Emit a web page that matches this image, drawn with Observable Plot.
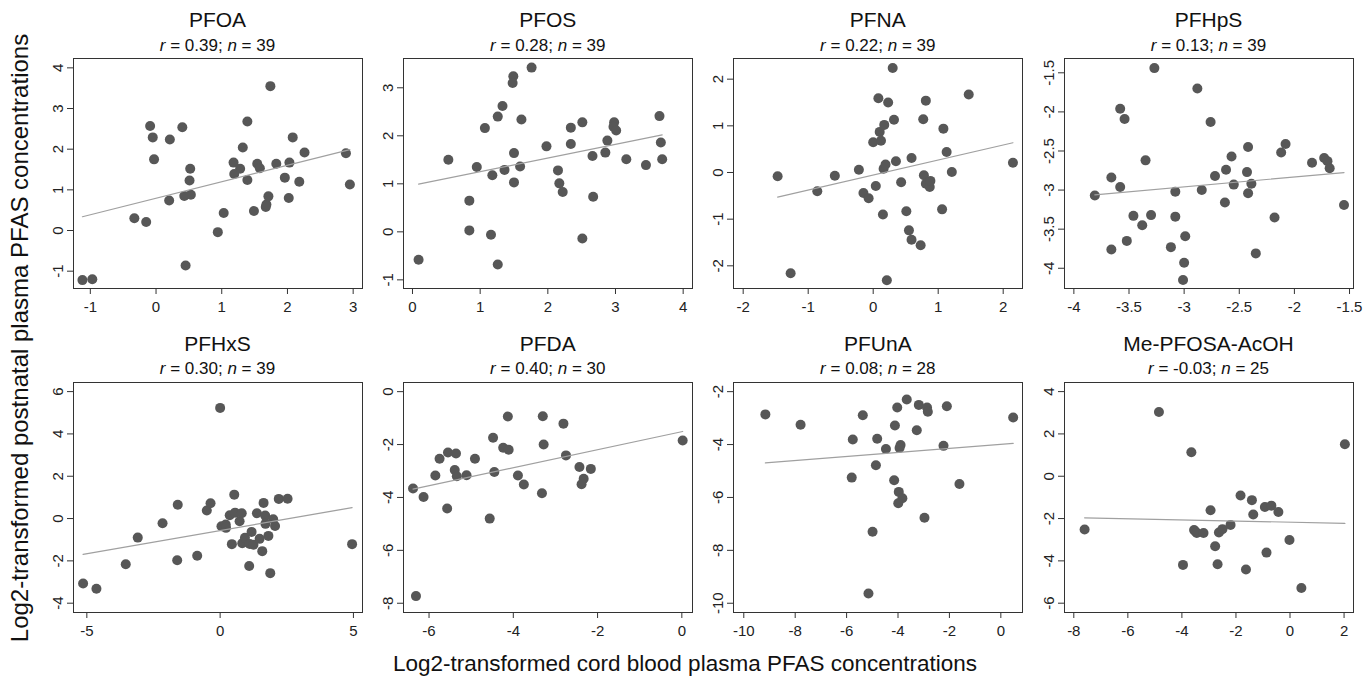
<!DOCTYPE html>
<html>
<head>
<meta charset="utf-8">
<script src="https://cdn.jsdelivr.net/npm/d3@7"></script>
<script src="https://cdn.jsdelivr.net/npm/@observablehq/plot@0.6"></script>
<style>
  html, body { margin: 0; padding: 0; background: #fff; }
  #chart { position: relative; width: 1368px; height: 677px; overflow: hidden; background: #fff; }
  .panel { position: absolute; }
  #overlay { position: absolute; left: 0; top: 0; pointer-events: none; }
</style>
</head>
<body>
<div id="chart"></div>
<script>
// ---------- data ----------
const panelNames = ["PFOA", "PFOS", "PFNA", "PFHpS", "PFHxS", "PFDA", "PFUnA", "Me-PFOSA-AcOH"];
const rValues = ["0.39", "0.28", "0.22", "0.13", "0.30", "0.40", "0.08", "-0.03"];
const nValues = [39, 39, 39, 39, 39, 30, 28, 25];

const xAxisTitle = "Log2-transformed cord blood plasma PFAS concentrations";
const yAxisTitle = "Log2-transformed postnatal plasma PFAS concentrations";

const pfoaX = [-1.12,-0.97,-0.33,-0.15,-0.09,-0.05,-0.03,0.21,0.20,0.40,0.43,0.45,0.52,0.51,0.53,0.94,1.03,1.18,1.19,1.28,1.32,1.39,1.39,1.49,1.54,1.58,1.67,1.68,1.71,1.74,1.83,1.96,2.02,2.03,2.08,2.18,2.26,2.89,2.95];
const pfoaY = [-1.22,-1.20,0.30,0.21,2.57,2.29,1.75,2.24,0.74,2.54,0.85,-0.86,1.52,1.23,0.88,-0.04,0.43,1.67,1.39,1.52,2.04,1.24,2.68,0.48,1.64,1.53,0.58,0.64,0.84,3.55,1.64,1.30,0.80,1.67,2.29,1.20,1.92,1.90,1.13];

const pfosX = [0.09,0.53,0.84,0.84,0.95,1.07,1.16,1.18,1.26,1.26,1.33,1.36,1.49,1.48,1.50,1.50,1.59,1.61,1.76,1.98,2.15,2.17,2.22,2.34,2.34,2.51,2.51,2.66,2.67,2.85,2.88,2.98,2.97,3.01,3.16,3.45,3.65,3.67,3.69];
const pfosY = [-0.58,1.50,0.65,0.03,1.35,2.16,-0.06,1.18,-0.68,2.40,2.62,1.29,3.24,3.10,1.64,1.03,1.36,2.34,3.42,1.78,1.28,1.01,0.83,1.83,2.17,2.28,-0.14,1.58,0.73,1.65,1.90,2.28,2.19,2.11,1.51,1.39,2.41,1.86,1.51];

const pfnaX = [-1.47,-1.27,-0.86,-0.59,-0.22,-0.15,-0.07,0.00,0.04,0.08,0.10,0.12,0.15,0.16,0.17,0.19,0.21,0.23,0.30,0.32,0.35,0.43,0.51,0.55,0.59,0.59,0.73,0.77,0.78,0.81,0.81,0.87,0.88,1.06,1.08,1.13,1.21,1.47,2.15];
const pfnaY = [-0.08,-2.16,-0.40,-0.07,0.06,-0.44,-0.55,0.65,-0.29,1.59,0.87,0.68,-0.90,0.08,1.02,0.17,-2.31,1.50,2.24,1.13,0.24,-0.21,-0.83,-1.24,0.31,-1.44,-1.56,1.14,-0.06,1.54,-0.24,-0.31,-0.18,-0.79,0.94,0.44,0.01,1.67,0.21];

const pfhpsX = [-3.81,-3.66,-3.66,-3.58,-3.58,-3.54,-3.52,-3.46,-3.38,-3.35,-3.30,-3.27,-3.12,-3.08,-3.08,-3.01,-3.00,-2.99,-2.88,-2.84,-2.76,-2.72,-2.63,-2.62,-2.57,-2.55,-2.43,-2.42,-2.42,-2.39,-2.35,-2.18,-2.12,-2.08,-1.84,-1.73,-1.70,-1.68,-1.55];
const pfhpsY = [-3.07,-2.84,-3.76,-1.96,-2.96,-2.09,-3.65,-3.33,-3.45,-2.62,-3.32,-1.44,-3.73,-3.02,-3.34,-4.15,-3.93,-3.59,-1.70,-3.00,-2.13,-2.82,-3.16,-2.74,-2.57,-2.93,-2.77,-2.45,-3.04,-2.92,-3.81,-3.35,-2.52,-2.41,-2.65,-2.59,-2.63,-2.72,-3.19];

const pfhxsX = [-5.14,-4.64,-3.54,-3.09,-2.16,-1.59,-1.61,-0.86,-0.50,-0.36,0.00,0.05,0.21,0.22,0.36,0.44,0.53,0.56,0.73,0.81,0.83,0.93,1.09,1.11,1.18,1.25,1.38,1.48,1.58,1.63,1.69,1.70,1.81,1.88,1.99,2.06,2.20,2.53,4.95];
const pfhxsY = [-3.07,-3.32,-2.16,-0.90,-0.22,0.65,-1.97,-1.76,0.38,0.72,5.23,-0.36,-0.28,-0.44,0.16,-1.21,1.13,0.28,-0.13,0.25,-1.17,-0.91,-2.24,-1.20,-0.63,-1.24,0.25,-0.96,-1.54,0.74,0.14,-0.25,-0.82,-2.58,-0.03,-0.35,0.93,0.94,-1.21];

const pfdaX = [-6.38,-6.31,-6.13,-5.85,-5.75,-5.57,-5.55,-5.39,-5.36,-5.34,-5.11,-4.91,-4.56,-4.48,-4.45,-4.24,-4.13,-4.11,-3.89,-3.75,-3.32,-3.30,-3.28,-2.81,-2.75,-2.43,-2.33,-2.38,-2.16,0.02];
const pfdaY = [-3.66,-7.73,-3.98,-3.17,-2.54,-4.42,-2.30,-2.96,-2.34,-3.20,-3.16,-2.54,-4.80,-1.74,-3.04,-2.12,-0.94,-2.20,-3.17,-3.51,-3.84,-0.93,-2.00,-1.21,-2.41,-2.85,-3.29,-3.50,-2.92,-1.85];

const pfunaX = [-9.16,-7.79,-5.76,-5.80,-5.37,-5.15,-4.99,-4.86,-4.81,-4.47,-4.15,-4.12,-4.03,-3.97,-3.90,-3.94,-3.83,-3.99,-3.66,-3.27,-3.19,-2.97,-2.87,-2.84,-2.23,-2.10,-1.61,0.48];
const pfunaY = [-2.86,-3.25,-3.81,-5.25,-2.89,-9.63,-7.30,-4.78,-3.78,-4.17,-5.35,-3.28,-2.60,-5.79,-4.02,-4.13,-6.03,-6.22,-2.30,-3.46,-2.50,-6.77,-2.60,-2.76,-4.05,-2.55,-5.49,-2.98];

const mepfosaX = [-7.60,-4.85,-3.96,-3.65,-3.55,-3.50,-3.45,-3.20,-2.94,-2.77,-2.68,-2.63,-2.50,-2.20,-1.83,-1.63,-1.41,-1.36,-0.93,-0.87,-0.69,-0.43,-0.02,0.42,2.03];
const mepfosaY = [-2.52,3.04,-4.19,1.13,-2.54,-2.61,-2.68,-2.68,-1.61,-3.31,-4.16,-2.66,-2.50,-2.30,-0.91,-4.41,-1.13,-1.81,-1.45,-3.61,-1.39,-1.69,-3.01,-5.28,1.51];

// tick labels
const xTicks = [
  [-1, 0, 1, 2, 3],
  [0, 1, 2, 3, 4],
  [-2, -1, 0, 1, 2],
  [-4, -3.5, -3, -2.5, -2, -1.5],
  [-5, 0, 5],
  [-6, -4, -2, 0],
  [-10, -8, -6, -4, -2, 0],
  [-8, -6, -4, -2, 0, 2]
];
const yTicks = [
  [-1, 0, 1, 2, 3, 4],
  [-1, 0, 1, 2, 3],
  [-2, -1, 0, 1, 2],
  [-4, -3.5, -3, -2.5, -2, -1.5],
  [-4, -2, 0, 2, 4, 6],
  [-8, -6, -4, -2, 0],
  [-10, -8, -6, -4, -2],
  [-6, -4, -2, 0, 2, 4]
];

const seriesX = [pfoaX, pfosX, pfnaX, pfhpsX, pfhxsX, pfdaX, pfunaX, mepfosaX];
const seriesY = [pfoaY, pfosY, pfnaY, pfhpsY, pfhxsY, pfdaY, pfunaY, mepfosaY];

// ---------- layout (scale domains incl. Stata-like padding) ----------
const xDomains = [[-1.256, 3.142], [-0.133, 4.138], [-2.149, 2.297], [-4.085, -1.464],
                  [-5.50, 5.34], [-6.606, 0.253], [-10.40, 0.843], [-8.344, 2.349]];
const yDomains = [[-1.426, 4.23], [-1.18, 3.61], [-2.486, 2.443], [-4.259, -1.317],
                  [-4.44, 6.43], [-8.35, 0.346], [-10.35, -1.654], [-6.44, 4.43]];

const colLeft = [73, 403.3, 733.3, 1064];
const rowTop = [58.3, 381.7];
const frameW = 289, frameH = 230;
const mL = 45, mR = 8, mT = 8, mB = 35;
const FONT = "'Liberation Sans', Arial, Helvetica, sans-serif";

const chart = document.getElementById("chart");
const fmt = d => String(d);

for (let i = 0; i < 8; i++) {
  const rows = seriesX[i].map((x, j) => ({x, y: seriesY[i][j]}));
  const col = i % 4, row = Math.floor(i / 4);
  const svg = Plot.plot({
    width: mL + frameW + mR,
    height: mT + frameH + mB,
    marginLeft: mL, marginRight: mR, marginTop: mT, marginBottom: mB,
    style: {fontFamily: FONT, fontSize: "15px", color: "#222", background: "transparent", maxWidth: "none", overflow: "visible"},
    x: {domain: xDomains[i], label: null},
    y: {domain: yDomains[i], label: null},
    marks: [
      Plot.frame({stroke: "#333", strokeWidth: 1}),
      Plot.axisX({ticks: xTicks[i], tickSize: 6, tickPadding: 7, tickFormat: fmt, stroke: "#333", fontSize: 15, fill: "#222"}),
      Plot.axisY({ticks: yTicks[i], tickSize: 6, tickPadding: 5, tickRotate: -90, tickFormat: fmt, stroke: "#333", fontSize: 15, fill: "#222"}),
      Plot.dot(rows, {x: "x", y: "y", r: 5, fill: "#575757", stroke: "none"}),
      Plot.linearRegressionY(rows, {x: "x", y: "y", stroke: "#a0a0a0", strokeWidth: 1.2, ci: 0})
    ]
  });
  const div = document.createElement("div");
  div.className = "panel";
  div.style.left = (colLeft[col] - mL) + "px";
  div.style.top = (rowTop[row] - mT) + "px";
  div.appendChild(svg);
  chart.appendChild(div);
}

// ---------- titles & axis titles ----------
const ov = d3.select(chart).append("svg")
  .attr("id", "overlay")
  .attr("width", 1368).attr("height", 677)
  .style("font-family", FONT);

for (let i = 0; i < 8; i++) {
  const col = i % 4, row = Math.floor(i / 4);
  const cx = colLeft[col] + frameW / 2;
  const top = rowTop[row];
  ov.append("text")
    .attr("x", cx).attr("y", top - 31)
    .attr("text-anchor", "middle")
    .attr("font-size", 21).attr("fill", "#111")
    .text(panelNames[i]);
  const sub = ov.append("text")
    .attr("x", cx).attr("y", top - 7.5)
    .attr("text-anchor", "middle")
    .attr("font-size", 17).attr("fill", "#111");
  sub.append("tspan").attr("font-style", "italic").text("r");
  sub.append("tspan").text(" = " + rValues[i] + "; ");
  sub.append("tspan").attr("font-style", "italic").text("n");
  sub.append("tspan").text(" = " + nValues[i]);
}

ov.append("text")
  .attr("x", 685).attr("y", 671)
  .attr("text-anchor", "middle")
  .attr("font-size", 22.5).attr("fill", "#111")
  .text(xAxisTitle);

ov.append("text")
  .attr("transform", "translate(28,338) rotate(-90)")
  .attr("text-anchor", "middle")
  .attr("font-size", 24).attr("fill", "#111")
  .text(yAxisTitle);
</script>
</body>
</html>
